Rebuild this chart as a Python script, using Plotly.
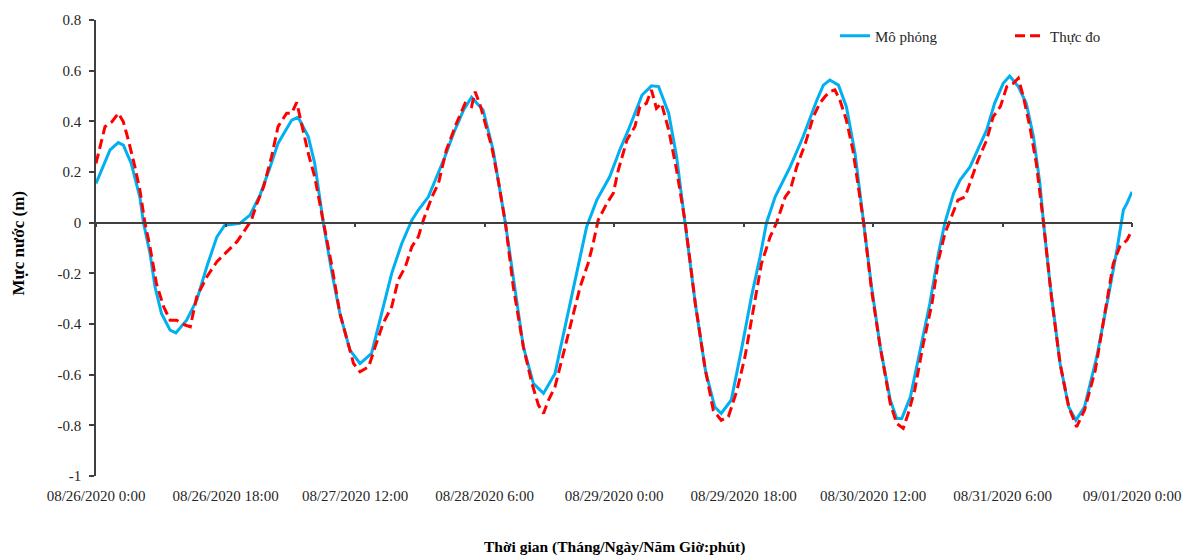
import pandas as pd
import plotly.graph_objects as go

# ---- data (hours after 08/26/2020 0:00, water level in m) ----
sim_hours = [0, 1.0, 1.95, 3.1, 3.8, 4.9, 6.1, 6.6, 7.5, 8.2, 9.1, 10.3, 11.1, 12.6, 14.0, 15.4,
             16.8, 17.9, 20.0, 21.4, 22.8, 24.2, 25.3, 27.2, 28.1, 29.5, 30.4, 31.6, 32.8, 33.9,
             35.3, 36.7, 38.3, 39.7, 41.1, 42.5, 43.9, 44.8, 46.2, 48.5, 49.7, 51.1, 52.2, 53.8,
             55.2, 56.9, 58.2, 59.4, 60.8, 62.2, 63.8, 65.4, 66.8, 68.2, 69.6, 71.4, 72.8, 74.0,
             75.9, 77.2, 78.2, 79.6, 80.7, 81.9, 83.3, 84.7, 86.0, 86.9, 88.3, 89.7, 91.1, 92.3,
             93.2, 94.4, 96.5, 98.3, 100.2, 101.1, 102.0, 103.2, 104.3, 105.5, 106.7, 107.8, 109.0,
             110.4, 111.3, 112.0, 113.2, 114.5, 115.9, 117.1, 118.0, 119.2, 120.1, 121.5, 121.9,
             123.8, 124.9, 126.1, 127.0, 128.2, 129.3, 130.3, 131.2, 131.7, 132.6, 134.0, 135.2,
             136.2, 137.4, 139.1, 140.7, 141.9, 142.8, 143.3, 144.0]
sim_values = [0.155, 0.22, 0.287, 0.316, 0.306, 0.234, 0.10, 0.0, -0.12, -0.253, -0.358, -0.424,
              -0.435, -0.385, -0.306, -0.174, -0.056, -0.01, -0.003, 0.03, 0.109, 0.22, 0.313,
              0.405, 0.416, 0.34, 0.234, 0.0, -0.2, -0.358, -0.503, -0.556, -0.516, -0.358, -0.2,
              -0.082, 0.01, 0.05, 0.102, 0.26, 0.353, 0.445, 0.495, 0.445, 0.287, 0.0, -0.253,
              -0.49, -0.635, -0.674, -0.595, -0.385, -0.2, -0.016, 0.089, 0.181, 0.287, 0.366,
              0.504, 0.54, 0.537, 0.432, 0.26, 0.0, -0.319, -0.582, -0.727, -0.753, -0.7, -0.503,
              -0.293, -0.135, 0.0, 0.102, 0.221, 0.34, 0.484, 0.543, 0.563, 0.543, 0.458, 0.274,
              0.0, -0.253, -0.49, -0.7, -0.773, -0.773, -0.687, -0.503, -0.319, -0.121, 0.0,
              0.116, 0.168, 0.221, 0.247, 0.366, 0.471, 0.55, 0.579, 0.537, 0.471, 0.34, 0.155,
              0.0, -0.24, -0.556, -0.727, -0.78, -0.727, -0.53, -0.293, -0.108, 0.05, 0.076, 0.122]

obs_hours = [0, 0.56, 1.25, 2.2, 3.1, 3.8, 4.5, 5.4, 6.1, 6.8, 7.5, 8.4, 9.4, 10.3, 11.2, 12.4,
             13.1, 14.0, 15.4, 16.8, 18.2, 19.6, 20.7, 21.6, 22.3, 23.3, 24.4, 25.3, 26.5, 27.2,
             27.9, 28.6, 29.5, 30.4, 31.6, 32.8, 33.9, 35.1, 35.8, 36.7, 37.9, 38.8, 39.9, 41.1,
             42.0, 43.0, 43.9, 44.8, 45.5, 46.7, 47.6, 48.7, 50.1, 51.3, 52.2, 52.7, 53.4, 54.1,
             55.0, 55.9, 56.9, 58.0, 59.4, 60.6, 61.5, 62.2, 62.9, 63.8, 65.0, 66.1, 67.3, 68.4,
             69.1, 69.8, 71.0, 71.9, 72.6, 73.8, 74.9, 75.6, 76.5, 77.2, 77.9, 78.6, 79.6, 80.7,
             81.9, 83.3, 84.7, 85.8, 86.9, 87.9, 89.1, 90.2, 91.4, 92.5, 93.7, 94.6, 95.8, 96.5,
             97.4, 98.6, 99.7, 100.6, 101.3, 102.0, 102.7, 103.4, 104.3, 105.2, 106.7, 107.8,
             109.0, 110.4, 111.3, 112.2, 112.9, 113.8, 115.0, 116.2, 117.1, 118.0, 118.9, 119.8,
             120.8, 121.5, 122.6, 123.8, 124.7, 125.7, 126.6, 127.5, 128.2, 128.9, 129.8, 130.7,
             131.7, 132.8, 134.0, 135.2, 136.3, 137.4, 138.9, 140.3, 141.4, 142.3, 143.3, 144.0]
obs_values = [0.234, 0.3, 0.379, 0.398, 0.432, 0.398, 0.326, 0.221, 0.129, 0.0, -0.095, -0.24,
              -0.332, -0.385, -0.385, -0.404, -0.411, -0.293, -0.214, -0.154, -0.115, -0.075,
              -0.029, 0.01, 0.07, 0.142, 0.26, 0.379, 0.432, 0.432, 0.475, 0.392, 0.274, 0.181,
              0.0, -0.174, -0.358, -0.49, -0.556, -0.589, -0.569, -0.49, -0.398, -0.332, -0.227,
              -0.174, -0.095, -0.056, 0.01, 0.102, 0.155, 0.287, 0.392, 0.471, 0.458, 0.517,
              0.464, 0.392, 0.3, 0.168, 0.0, -0.253, -0.49, -0.635, -0.72, -0.753, -0.7, -0.648,
              -0.516, -0.385, -0.253, -0.161, -0.082, 0.01, 0.076, 0.116, 0.208, 0.326, 0.379,
              0.458, 0.471, 0.524, 0.451, 0.471, 0.366, 0.208, 0.0, -0.319, -0.582, -0.74, -0.78,
              -0.766, -0.661, -0.53, -0.345, -0.161, -0.056, 0.0, 0.102, 0.129, 0.221, 0.313,
              0.418, 0.471, 0.497, 0.517, 0.524, 0.484, 0.405, 0.287, 0.0, -0.266, -0.49, -0.714,
              -0.793, -0.812, -0.753, -0.661, -0.477, -0.319, -0.148, -0.042, 0.023, 0.089, 0.102,
              0.162, 0.247, 0.326, 0.418, 0.458, 0.537, 0.55, 0.57, 0.497, 0.379, 0.234, 0.0,
              -0.293, -0.556, -0.727, -0.806, -0.74, -0.582, -0.345, -0.161, -0.095, -0.069, -0.029]

x_tick_labels = ["08/26/2020 0:00", "08/26/2020 18:00", "08/27/2020 12:00", "08/28/2020 6:00",
                 "08/29/2020 0:00", "08/29/2020 18:00", "08/30/2020 12:00", "08/31/2020 6:00",
                 "09/01/2020 0:00"]
x_tick_hours = [0, 18, 36, 54, 72, 90, 108, 126, 144]
y_tick_vals = [0.8, 0.6, 0.4, 0.2, 0, -0.2, -0.4, -0.6, -0.8, -1]
y_tick_text = ["0.8", "0.6", "0.4", "0.2", "0", "-0.2", "-0.4", "-0.6", "-0.8", "-1"]

start = pd.Timestamp("2020-08-26 00:00")
to_t = lambda hrs: [start + pd.Timedelta(hours=h) for h in hrs]

FONT = "Liberation Serif"
AX = "#404040"

fig = go.Figure()
fig.add_trace(go.Scatter(x=to_t(sim_hours), y=sim_values, mode="lines", name="Mô phỏng",
                         legend="legend",
                         line=dict(color="#00B0F0", width=3)))
fig.add_trace(go.Scatter(x=to_t(obs_hours), y=obs_values, mode="lines", name="Thực đo",
                         legend="legend2",
                         line=dict(color="#FF0000", width=3, dash="10px,5px")))
# invisible helper trace for the zero-line axis with tick marks
fig.add_trace(go.Scatter(x=to_t([0]), y=[0], mode="lines", xaxis="x2", showlegend=False,
                         hoverinfo="skip", line=dict(color="rgba(0,0,0,0)")))

xr = [start, start + pd.Timedelta(hours=144)]
leg_common = dict(orientation="h", y=0.965, xanchor="left", yanchor="middle",
                  font=dict(size=15, family=FONT, color="#262626"), itemwidth=30,
                  bgcolor="rgba(0,0,0,0)")
fig.update_layout(
    width=1187, height=558,
    margin=dict(l=96, r=55, t=20, b=82, autoexpand=False),
    plot_bgcolor="white", paper_bgcolor="white",
    font=dict(family=FONT, size=15, color="#262626"),
    xaxis=dict(range=xr, tickvals=to_t(x_tick_hours), ticktext=x_tick_labels,
               showgrid=False, zeroline=False, showline=False, ticks="", automargin=False,
               ticklabelstandoff=9, tickfont=dict(size=15, family=FONT)),
    xaxis2=dict(range=xr, overlaying="x", anchor="free", position=1 / 1.8,
                tickvals=to_t(x_tick_hours), showticklabels=False, showgrid=False,
                zeroline=False, showline=True, linecolor=AX, linewidth=1.5, automargin=False,
                ticks="outside", ticklen=4, tickcolor=AX, tickwidth=1.5),
    yaxis=dict(range=[-1, 0.8], tickvals=y_tick_vals, ticktext=y_tick_text,
               showgrid=False, zeroline=False, showline=True, linecolor=AX, linewidth=1.5,
               ticks="outside", ticklen=5, tickcolor=AX, tickwidth=1.5, automargin=False,
               ticklabelstandoff=5, tickfont=dict(size=15, family=FONT)),
    legend=dict(x=(835 - 96) / 1036, **leg_common),
    legend2=dict(x=(1010 - 96) / 1036, **leg_common),
    showlegend=True,
)
fig.add_annotation(text="<b>Thời gian (Tháng/Ngày/Năm Giờ:phút)</b>", xref="paper", yref="paper",
                   x=0.5, y=(476 - 547) / 456, xanchor="center", yanchor="middle",
                   showarrow=False, font=dict(size=15.5, family=FONT, color="#000000"))
fig.add_annotation(text="<b>Mực nước (m)</b>", xref="paper", yref="paper",
                   x=(18 - 96) / 1036, y=0.51, xanchor="center", yanchor="middle", textangle=-90,
                   showarrow=False, font=dict(size=17, family=FONT, color="#000000"))

fig.write_html("out.html")
